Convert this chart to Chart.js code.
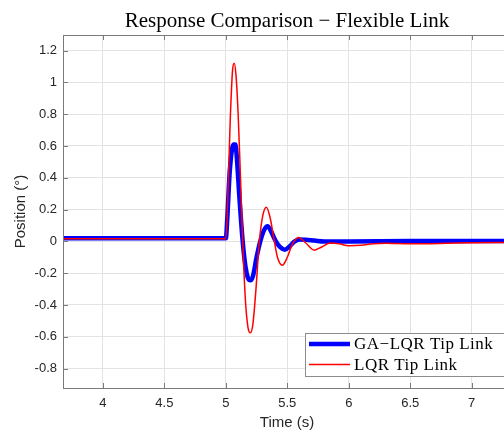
<!DOCTYPE html>
<html>
<head>
<meta charset="utf-8">
<script src="https://cdn.jsdelivr.net/npm/chart.js@4/dist/chart.umd.min.js"></script>
<style>
  html, body { margin: 0; padding: 0; background: #fff; overflow: hidden; }
  #wrap { width: 504px; height: 433px; overflow: hidden; }
</style>
</head>
<body>
<div id="wrap"><canvas id="myChart" width="512" height="433"></canvas></div>
<script>
// tick labels
var xTicks = [4, 4.5, 5, 5.5, 6, 6.5, 7];
var yTicks = [-0.8, -0.6, -0.4, -0.2, 0, 0.2, 0.4, 0.6, 0.8, 1, 1.2];

// GA-LQR tip response
var tGa = [3.675, 5.000, 5.012, 5.030, 5.050, 5.062, 5.078, 5.090, 5.110, 5.137, 5.160, 5.180, 5.200, 5.220, 5.250,
           5.280, 5.310, 5.340, 5.370, 5.400, 5.440, 5.480, 5.520, 5.560, 5.600, 5.650, 5.720, 5.800, 6.000, 6.500, 7.320];
var yGa = [0.020, 0.020, 0.150, 0.420, 0.580, 0.610, 0.610, 0.520, 0.280, 0.000, -0.160, -0.230, -0.245, -0.220, -0.100,
           0.000, 0.070, 0.096, 0.060, 0.010, -0.035, -0.052, -0.030, 0.000, 0.012, 0.010, 0.005, 0.000, 0.000, 0.003, 0.003];

// LQR tip response
var tLqr = [3.675, 5.000, 5.015, 5.035, 5.055, 5.068, 5.082, 5.100, 5.120, 5.137, 5.160, 5.180, 5.200, 5.220, 5.245,
            5.270, 5.300, 5.330, 5.360, 5.390, 5.420, 5.460, 5.500, 5.540, 5.590, 5.650, 5.720, 5.780, 5.850, 5.920,
            6.000, 6.100, 6.200, 6.300, 6.500, 6.800, 7.000, 7.320];
var yLqr = [0.017, 0.017, 0.250, 0.750, 1.080, 1.120, 1.050, 0.800, 0.380, 0.000, -0.380, -0.540, -0.575, -0.520, -0.300,
            -0.020, 0.160, 0.215, 0.150, 0.020, -0.100, -0.150, -0.100, -0.020, 0.025, -0.010, -0.055, -0.035, -0.010, -0.015,
            -0.028, -0.025, -0.015, -0.012, -0.015, -0.012, -0.009, -0.007];

var labels = ['GA\u2212LQR Tip Link', 'LQR Tip Link'];

function toPoints(t, y) {
    return t.map(function(v, i) { return {x: v, y: y[i]}; });
}

// title, box frame, inward ticks and legend, MATLAB style
var matlabFrame = {
    id: 'matlabFrame',
    afterDraw: function(chart) {
        var ctx = chart.ctx;
        var a = chart.chartArea;
        var xs = chart.scales.x, ys = chart.scales.y;
        ctx.save();

        // title
        ctx.fillStyle = '#000';
        ctx.font = '21px "Liberation Serif"';
        ctx.textAlign = 'center';
        ctx.textBaseline = 'middle';
        ctx.fillText('Response Comparison \u2212 Flexible Link', (a.left + a.right) / 2, 21.5);

        // frame
        ctx.strokeStyle = '#7a7a7a';
        ctx.lineWidth = 1;
        ctx.strokeRect(Math.round(a.left) + 0.5, Math.round(a.top) + 0.5, a.right - a.left, a.bottom - a.top);

        // inward ticks
        ctx.beginPath();
        xTicks.forEach(function(v) {
            var px = Math.round(xs.getPixelForValue(v)) + 0.5;
            ctx.moveTo(px, a.bottom); ctx.lineTo(px, a.bottom - 5);
            ctx.moveTo(px, a.top); ctx.lineTo(px, a.top + 5);
        });
        yTicks.forEach(function(v) {
            var py = Math.round(ys.getPixelForValue(v)) + 0.5;
            ctx.moveTo(a.left, py); ctx.lineTo(a.left + 5, py);
        });
        ctx.stroke();

        // legend
        var bx = 305.5, by = 333.5, bw = 210, bh = 43;
        ctx.fillStyle = '#fff';
        ctx.fillRect(bx, by, bw, bh);
        ctx.strokeStyle = '#8c8c8c';
        ctx.strokeRect(bx, by, bw, bh);
        ctx.font = '17px "Liberation Serif"';
        ctx.letterSpacing = '0.5px';
        ctx.textAlign = 'left';
        ctx.textBaseline = 'middle';
        chart.data.datasets.forEach(function(ds, i) {
            var ly = 344 + i * 20.5;
            ctx.strokeStyle = ds.borderColor;
            ctx.lineWidth = ds.borderWidth;
            ctx.beginPath();
            ctx.moveTo(309, ly); ctx.lineTo(350, ly);
            ctx.stroke();
            ctx.fillStyle = '#000';
            ctx.fillText(ds.label, 354, ly + 1);
        });
        ctx.restore();
    }
};

var ctx1 = document.getElementById('myChart').getContext('2d');
var respChart = new Chart(ctx1, {
    type: 'line',
    data: {
        datasets: [{
            label: labels[0],
            data: toPoints(tGa, yGa),
            borderColor: '#0000ff',
            borderWidth: 4.5,
            pointRadius: 0,
            cubicInterpolationMode: 'monotone',
            order: 1
        }, {
            label: labels[1],
            data: toPoints(tLqr, yLqr),
            borderColor: '#ff0000',
            borderWidth: 1.5,
            pointRadius: 0,
            cubicInterpolationMode: 'monotone',
            order: 0
        }]
    },
    options: {
        responsive: false,
        animation: false,
        layout: { padding: { left: 0, right: 1, top: 35, bottom: 0 } },
        plugins: {
            legend: { display: false },
            title: { display: false },
            tooltip: { enabled: false }
        },
        scales: {
            x: {
                type: 'linear',
                min: 3.675,
                max: 7.32,
                afterBuildTicks: function(scale) {
                    scale.ticks = xTicks.map(function(v) { return {value: v}; });
                },
                afterFit: function(scale) { scale.height = 45; },
                grid: { color: '#e3e3e3', drawTicks: false },
                border: { display: false },
                ticks: {
                    padding: 8,
                    maxRotation: 0,
                    color: '#262626',
                    font: { family: '"Liberation Sans"', size: 13 },
                    callback: function(v) { return String(+v.toFixed(1)); }
                },
                title: {
                    display: true,
                    text: 'Time (s)',
                    color: '#262626',
                    font: { family: '"Liberation Sans"', size: 15 },
                    padding: { top: 0, bottom: 1 }
                }
            },
            y: {
                min: -0.922,
                max: 1.298,
                afterBuildTicks: function(scale) {
                    scale.ticks = yTicks.map(function(v) { return {value: v}; });
                },
                afterFit: function(scale) { scale.width = 63; },
                grid: { color: '#e3e3e3', drawTicks: false },
                border: { display: false },
                ticks: {
                    padding: 6,
                    color: '#262626',
                    font: { family: '"Liberation Sans"', size: 13 },
                    callback: function(v) { return String(+v.toFixed(1)); }
                },
                title: {
                    display: true,
                    text: 'Position (\u00b0)',
                    color: '#262626',
                    font: { family: '"Liberation Sans"', size: 15 },
                    padding: { top: 12, bottom: 0 }
                }
            }
        }
    },
    plugins: [matlabFrame]
});
</script>
</body>
</html>
